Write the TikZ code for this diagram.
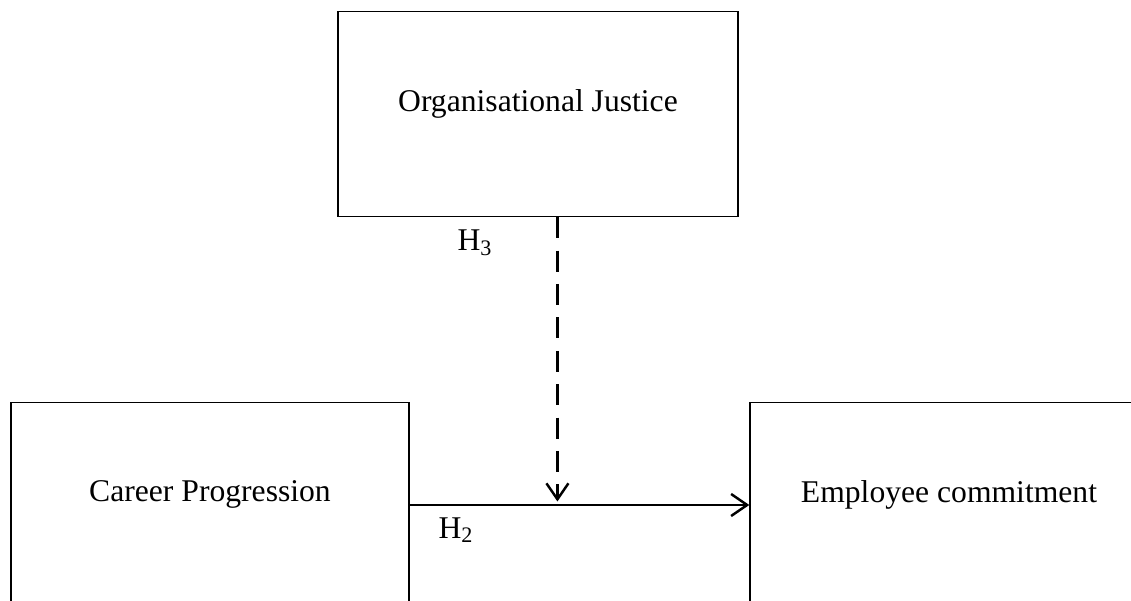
\documentclass[tikz,border=0pt]{standalone}
\usepackage{fontspec}
\setmainfont{Liberation Serif}
\usetikzlibrary{arrows.meta, positioning, calc}

\begin{document}
\begin{tikzpicture}[
    box/.style={draw, line width=0.8pt, minimum width=7.96cm, minimum height=4.1cm,
                text depth=0.55cm, font=\fontsize{18}{22}\selectfont},
    hyp/.style={font=\fontsize{18}{22}\selectfont},
    link/.style={line width=1.4pt, -{Straight Barb[length=0.32cm, width=0.44cm, line width=1.4pt]}}
  ]
    \clip (0,0) rectangle (22.62,12);

    % Variables
    \node[box, minimum width=8cm] (justice) at (10.76,9.72) {Organisational Justice};
    \node[box] (career) at (4.2,1.9) {Career Progression};
    \node[box] (commit) at (18.98,1.9) {Employee commitment};

    % Direct effect
    \draw[link] (career.east) -- (commit.west);
    \coordinate (meet) at ($(career.east)!0.435!(commit.west)$);
    \coordinate (top) at (justice.south -| meet);
    \node[hyp] (h2) at (9.12,1.4) {H\textsubscript{2}};

    % Moderation
    \draw[link, dash pattern=on 12pt off 7pt] (top) -- ([yshift=2pt]meet);
    \node[hyp] (h3) at (9.5,7.14) {H\textsubscript{3}};
\end{tikzpicture}
\end{document}
